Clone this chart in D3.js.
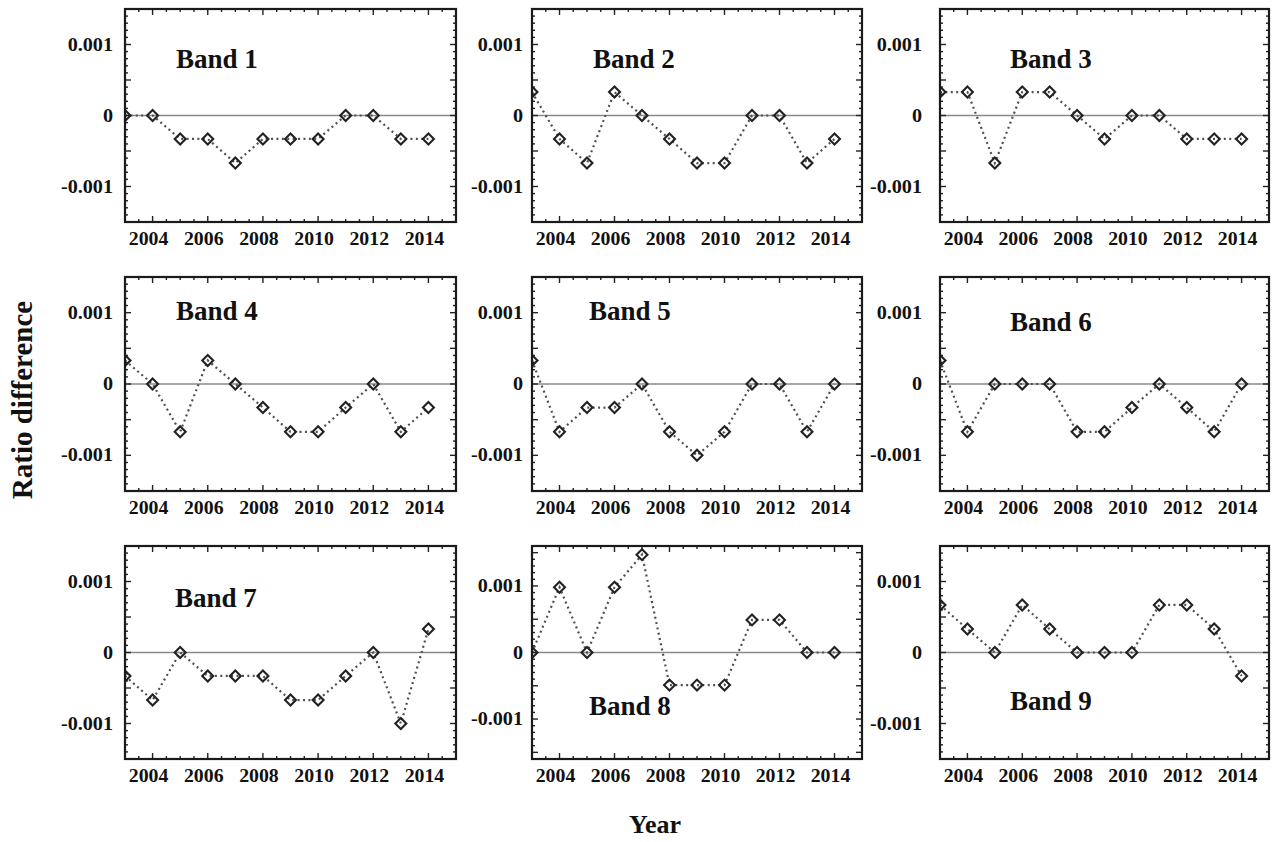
<!DOCTYPE html>
<html>
<head>
<meta charset="utf-8">
<script src="https://cdn.jsdelivr.net/npm/d3@7/dist/d3.min.js"></script>
<style>
  body { margin: 0; background: #fff; }
  svg { display: block; }
  text { font-family: "Liberation Serif", "Times New Roman", serif; font-weight: bold; fill: #111; }
</style>
</head>
<body>
<svg id="chart" width="1279" height="842"></svg>
<script>
// Observation years (one point per year)
const years = [2003, 2004, 2005, 2006, 2007, 2008, 2009, 2010, 2011, 2012, 2013, 2014];

// Ratio difference per band
const band1 = [0, 0, -0.00033, -0.00033, -0.00067, -0.00033, -0.00033, -0.00033, 0, 0, -0.00033, -0.00033];
const band2 = [0.00033, -0.00033, -0.00067, 0.00033, 0, -0.00033, -0.00067, -0.00067, 0, 0, -0.00067, -0.00033];
const band3 = [0.00033, 0.00033, -0.00067, 0.00033, 0.00033, 0, -0.00033, 0, 0, -0.00033, -0.00033, -0.00033];
const band4 = [0.00033, 0, -0.00067, 0.00033, 0, -0.00033, -0.00067, -0.00067, -0.00033, 0, -0.00067, -0.00033];
const band5 = [0.00033, -0.00067, -0.00033, -0.00033, 0, -0.00067, -0.001, -0.00067, 0, 0, -0.00067, 0];
const band6 = [0.00033, -0.00067, 0, 0, 0, -0.00067, -0.00067, -0.00033, 0, -0.00033, -0.00067, 0];
const band7 = [-0.00033, -0.00067, 0, -0.00033, -0.00033, -0.00033, -0.00067, -0.00067, -0.00033, 0, -0.001, 0.00033];
const band8 = [0, 0.00098, 0, 0.00098, 0.00147, -0.00049, -0.00049, -0.00049, 0.00049, 0.00049, 0, 0];
const band9 = [0.00067, 0.00033, 0, 0.00067, 0.00033, 0, 0, 0, 0.00067, 0.00067, 0.00033, -0.00033];

const bandNames = ["Band 1", "Band 2", "Band 3", "Band 4", "Band 5", "Band 6", "Band 7", "Band 8", "Band 9"];
const bandSeries = [band1, band2, band3, band4, band5, band6, band7, band8, band9];
// y extent of each panel (Band 8 is a little taller)
const bandLimits = [0.0015, 0.0015, 0.0015, 0.0015, 0.0015, 0.0015, 0.0015, 0.0016, 0.0015];

const xTickLabels = [2004, 2006, 2008, 2010, 2012, 2014];
const yTickValues = [0.001, 0, -0.001];
const yTickLabels = ["0.001", "0", "-0.001"];

// ---- layout ----
const colLeft = [125, 532, 940], colRight = [456, 862, 1269];
const rowTop = [9, 277, 546], rowBottom = [222, 491, 759];
const yLabelGap = [12, 9, 18];
// band title placement relative to the panel's top-left corner
const titlePos = [[51, 59], [61, 59], [70, 59], [51, 43], [57, 43], [70, 54], [50, 61], [57, 169], [70, 164]];

const svg = d3.select("#chart");
const defs = svg.append("defs");

bandSeries.forEach((vals, i) => {
  const r = Math.floor(i / 3), c = i % 3;
  const L = colLeft[c], R = colRight[c], T = rowTop[r], B = rowBottom[r];
  const lim = bandLimits[i];
  const x = d3.scaleLinear().domain([2003, 2015]).range([L, R]);
  const y = d3.scaleLinear().domain([-lim, lim]).range([B, T]);
  const g = svg.append("g");

  const clipId = "clip" + i;
  defs.append("clipPath").attr("id", clipId)
    .append("rect").attr("x", L).attr("y", T).attr("width", R - L).attr("height", B - T);

  // zero reference line
  g.append("line")
    .attr("x1", L).attr("x2", R).attr("y1", y(0)).attr("y2", y(0))
    .attr("stroke", "#8a8a8a").attr("stroke-width", 1.6);

  const pts = years.map((yr, k) => [yr, vals[k]]);
  const plot = g.append("g").attr("clip-path", `url(#${clipId})`);

  plot.append("path")
    .datum(pts)
    .attr("fill", "none")
    .attr("stroke", "#505050")
    .attr("stroke-width", 2.2)
    .attr("stroke-dasharray", "2,3.4")
    .attr("d", d3.line().x(d => x(d[0])).y(d => y(d[1])));

  const sym = d3.symbol().type(d3.symbolSquare).size(60);
  plot.selectAll("path.pt")
    .data(pts)
    .join("path")
    .attr("class", "pt")
    .attr("d", sym)
    .attr("transform", d => `translate(${x(d[0])},${y(d[1])}) rotate(45)`)
    .attr("fill", "none")
    .attr("stroke", "#222")
    .attr("stroke-width", 2.1);

  // ticks on all four sides, pointing inward
  const xMajor = d3.range(2004, 2015, 2);
  const xMinor = d3.range(2003, 2015.01, 0.5).filter(v => !xMajor.includes(v));
  const yMajor = d3.range(-0.0015, 0.00151, 0.0005).filter(v => v >= -lim - 1e-9 && v <= lim + 1e-9);
  const yMinor = d3.range(-lim, lim + 1e-9, 0.0001).filter(v => !yMajor.some(m => Math.abs(m - v) < 1e-9));

  const tk = g.append("g").attr("stroke", "#222").attr("stroke-width", 1.4);
  const addX = (vals, len) => vals.forEach(v => {
    tk.append("line").attr("x1", x(v)).attr("x2", x(v)).attr("y1", B).attr("y2", B - len);
    tk.append("line").attr("x1", x(v)).attr("x2", x(v)).attr("y1", T).attr("y2", T + len);
  });
  const addY = (vals, len) => vals.forEach(v => {
    tk.append("line").attr("y1", y(v)).attr("y2", y(v)).attr("x1", L).attr("x2", L + len);
    tk.append("line").attr("y1", y(v)).attr("y2", y(v)).attr("x1", R).attr("x2", R - len);
  });
  addX(xMajor, 6); addX(xMinor, 3);
  addY(yMajor, 6); addY(yMinor, 3);

  // frame
  g.append("rect")
    .attr("x", L).attr("y", T).attr("width", R - L).attr("height", B - T)
    .attr("fill", "none").attr("stroke", "#1a1a1a").attr("stroke-width", 2.2);

  // tick labels
  xTickLabels.forEach(v => {
    g.append("text")
      .attr("transform", `translate(${x(v) - 4},${B + 23}) scale(1.1,1)`)
      .attr("text-anchor", "middle")
      .attr("font-size", 18)
      .text(v);
  });
  yTickValues.forEach((v, k) => {
    g.append("text")
      .attr("transform", `translate(${L - yLabelGap[c]},${y(v) + 6}) scale(1.12,1)`)
      .attr("text-anchor", "end")
      .attr("font-size", 18)
      .text(yTickLabels[k]);
  });

  // band title
  g.append("text")
    .attr("x", L + titlePos[i][0]).attr("y", T + titlePos[i][1])
    .attr("font-size", 27)
    .text(bandNames[i]);
});

// shared axis titles
svg.append("text")
  .attr("transform", "translate(32,400) rotate(-90)")
  .attr("text-anchor", "middle")
  .attr("font-size", 29)
  .text("Ratio difference");

svg.append("text")
  .attr("x", 655).attr("y", 833)
  .attr("text-anchor", "middle")
  .attr("font-size", 26)
  .text("Year");
</script>
</body>
</html>
